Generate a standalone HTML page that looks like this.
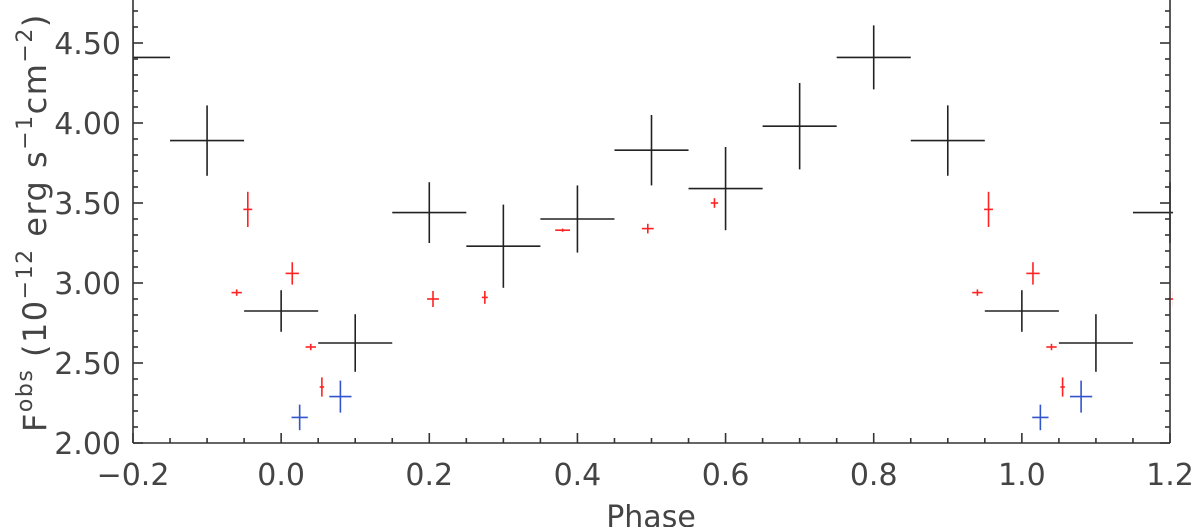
<!DOCTYPE html>
<html><head><meta charset="utf-8"><style>
body{margin:0;background:#fff;width:1200px;height:527px;overflow:hidden}
svg{display:block;font-family:"DejaVu Sans","Liberation Sans",sans-serif}
</style></head><body>
<svg id="chart" width="1200" height="527" viewBox="0 0 1200 527"></svg>
<script>
const blackPhases=[0.0,0.1,0.2,0.3,0.4,0.5,0.6,0.7,0.8,0.9];
const blackFlux=[2.825,2.625,3.44,3.23,3.40,3.83,3.59,3.98,4.41,3.89];
const blackErr=[0.13,0.18,0.19,0.26,0.21,0.22,0.26,0.27,0.2,0.22];
const redPhases=[0.955,0.94,0.015,0.04,0.055,0.205,0.275,0.38,0.495,0.585];
const redFlux=[3.46,2.94,3.06,2.60,2.35,2.90,2.91,3.33,3.34,3.50];
const redErr=[0.11,0.02,0.07,0.02,0.06,0.05,0.04,0.01,0.03,0.03];
const redXErr=[0.006,0.007,0.009,0.007,0.003,0.008,0.004,0.01,0.008,0.005];
const bluePhases=[0.025,0.08];
const blueFlux=[2.16,2.29];
const blueErr=[0.08,0.1];
const blueXErr=[0.011,0.015];
const xTicks=[-0.2,0.0,0.2,0.4,0.6,0.8,1.0,1.2];
const xTickLabels=["\u22120.2","0.0","0.2","0.4","0.6","0.8","1.0","1.2"];
const yTicks=[2.0,2.5,3.0,3.5,4.0,4.5];
const yTickLabels=["2.00","2.50","3.00","3.50","4.00","4.50"];

const X0=133,X1=1170,Y0=443;
const xs=p=>X0+(p+0.2)*(X1-X0)/1.4;
const ys=v=>Y0-(v-2)*160;
const svg=document.getElementById('chart');
const NS='http://www.w3.org/2000/svg';
function el(t,a,parent){const e=document.createElementNS(NS,t);for(const k in a)e.setAttribute(k,a[k]);(parent||svg).appendChild(e);return e;}

const defs=el('defs',{});
const cp=el('clipPath',{id:'clip'},defs);
el('rect',{x:X0,y:0,width:X1-X0+3,height:Y0},cp);
const g=el('g',{'clip-path':'url(#clip)'});



function cross(p,v,xe,ye,color,w,name){
  for(const s of [-1,0,1]){
    const x=xs(p+s);
    if(x<X0-80||x>X1+80)continue;
    const grp=el('g',{},g);
    
    
    el('line',{x1:xs(p+s-xe),x2:xs(p+s+xe),y1:ys(v),y2:ys(v),stroke:color,'stroke-width':w},grp);
    el('line',{x1:x,x2:x,y1:ys(v-ye),y2:ys(v+ye),stroke:color,'stroke-width':w},grp);
  }
}
blackPhases.forEach((p,i)=>cross(p,blackFlux[i],0.05,blackErr[i],'#222',1.6,'black-point'));
redPhases.forEach((p,i)=>cross(p,redFlux[i],redXErr[i],redErr[i],'#f22',1.6,'red-point'));
bluePhases.forEach((p,i)=>cross(p,blueFlux[i],blueXErr[i],blueErr[i],'#3355cc',1.6,'blue-point'));

const ax=el('g',{stroke:'#333','stroke-width':1.6,fill:'none'});


el('line',{x1:X0,x2:X0,y1:0,y2:Y0},ax);
el('line',{x1:X1,x2:X1,y1:0,y2:Y0},ax);
el('line',{x1:X0,x2:X1,y1:Y0,y2:Y0},ax);
for(let i=0;i<=28;i++){
  const p=-0.2+i*0.05,x=xs(p),L=(i%4===0)?10:5;
  el('line',{x1:x,x2:x,y1:Y0,y2:Y0-L},ax);
}
for(let i=0;i<=28;i++){
  const v=2+i*0.1,y=ys(v),L=(i%5===0)?10:5;
  if(y<0)break;
  el('line',{x1:X0,x2:X0+L,y1:y,y2:y},ax);
  el('line',{x1:X1,x2:X1-L,y1:y,y2:y},ax);
}
xTicks.forEach((t,i)=>{
  const tx=el('text',{x:xs(t),y:485,'text-anchor':'middle','font-size':30,fill:'#444'});
  
  
  tx.textContent=xTickLabels[i];
});
yTicks.forEach((t,i)=>{
  const tx=el('text',{x:121,y:ys(t)+11,'text-anchor':'end','font-size':30,fill:'#444'});
  
  
  tx.textContent=yTickLabels[i];
});
const xt=el('text',{x:651,y:527,'text-anchor':'middle','font-size':30,fill:'#444'});


xt.textContent='Phase';
const yt=el('text',{transform:'translate(46,432) rotate(-90)','font-size':32,fill:'#444','letter-spacing':'1.5'});


yt.innerHTML='F<tspan dy="-14" font-size="22">obs</tspan><tspan dy="14"> (10</tspan><tspan dy="-14" font-size="22">\u221212</tspan><tspan dy="14"> erg s</tspan><tspan dy="-14" font-size="22">\u22121</tspan><tspan dy="14">cm</tspan><tspan dy="-14" font-size="22">\u22122</tspan><tspan dy="14">)</tspan>';
</script>
</body></html>
